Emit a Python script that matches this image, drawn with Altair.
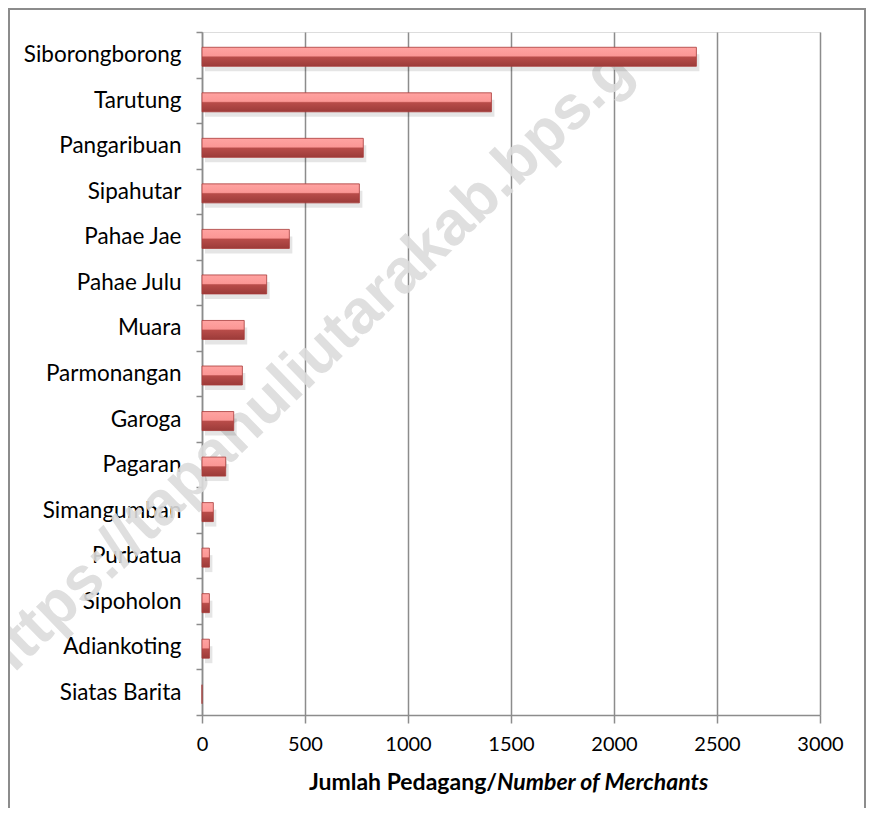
import altair as alt
import pandas as pd

kecamatan = ["Siborongborong", "Tarutung", "Pangaribuan", "Sipahutar", "Pahae Jae",
             "Pahae Julu", "Muara", "Parmonangan", "Garoga", "Pagaran",
             "Simangumban", "Purbatua", "Sipoholon", "Adiankoting", "Siatas Barita"]
pedagang = [2400, 1405, 783, 764, 424, 314, 205, 196, 154, 115, 55, 36, 36, 36, 0]
x_ticks = [0, 500, 1000, 1500, 2000, 2500, 3000]
title_main = "Jumlah Pedagang/"
title_italic = "Number of Merchants"
watermark = "https://tapanuliutarakab.bps.g"

df = pd.DataFrame({"kecamatan": kecamatan, "pedagang": pedagang})

FONT = "Lato"
W, H = 618, 683

x_enc = alt.X("pedagang:Q",
              scale=alt.Scale(domain=[0, 3000], nice=False),
              axis=alt.Axis(values=x_ticks, format="d", title=None, grid=True,
                            gridColor="#8c8c8c", gridWidth=1.5,
                            domainColor="#8c8c8c", domainWidth=1.5,
                            tickColor="#8c8c8c", tickWidth=1.5, tickSize=8,
                            labelFont=FONT, labelFontSize=20, labelColor="#000000",
                            labelPadding=11, labelFlush=False))
y_enc = alt.Y("kecamatan:N", sort=kecamatan,
              scale=alt.Scale(paddingInner=0, paddingOuter=0),
              axis=alt.Axis(title=None, tickBand="extent", grid=False,
                            domainColor="#8c8c8c", domainWidth=1.5,
                            tickColor="#8c8c8c", tickWidth=1.5, tickSize=6,
                            labelFont=FONT, labelFontSize=22.5, labelColor="#000000",
                            labelPadding=15))

wm = alt.Chart(pd.DataFrame({"t": [watermark]})).mark_text(
    font="Liberation Sans", fontWeight="bold", fontSize=62, angle=316,
    color="#dcdcdc", opacity=0.9, align="center", baseline="middle"
).encode(text="t:N", x=alt.value(102), y=alt.value(335))

shadow = alt.Chart(df).mark_bar(size=17, color="#000000", opacity=0.1,
                                yOffset=8, xOffset=3).encode(x=x_enc, y=y_enc)

grad = alt.Gradient(gradient="linear", x1=0, y1=0, x2=0, y2=1, stops=[
    alt.GradientStop(offset=0, color="#ffa3a1"),
    alt.GradientStop(offset=0.45, color="#fb9795"),
    alt.GradientStop(offset=0.52, color="#b84c49"),
    alt.GradientStop(offset=1, color="#9c3b39"),
])
bars = alt.Chart(df).mark_bar(size=19, yOffset=2, color=grad, stroke="#a83a38",
                              strokeWidth=0.8).encode(x=x_enc, y=y_enc)

t1 = alt.Chart(pd.DataFrame({"t": [title_main]})).mark_text(
    font=FONT, fontWeight="bold", fontSize=23, align="right", baseline="middle",
    color="#000000").encode(text="t:N", x=alt.value(295), y=alt.value(751))
t2 = alt.Chart(pd.DataFrame({"t": [title_italic]})).mark_text(
    font=FONT, fontWeight="bold", fontStyle="italic", fontSize=23, align="left",
    baseline="middle", color="#000000").encode(text="t:N", x=alt.value(295), y=alt.value(751))

border = alt.Chart(pd.DataFrame({"t": [0]})).mark_rect(
    filled=False, stroke="#8c8c8c", strokeWidth=2
).encode(x=alt.value(-193), x2=alt.value(663), y=alt.value(-23), y2=alt.value(900))

chart = alt.layer(wm, shadow, bars, t1, t2, border).properties(
    width=W, height=H,
    autosize=alt.AutoSizeParams(type="none"),
    padding={"left": 194, "top": 24, "right": 46, "bottom": 93},
).configure_view(stroke=None).configure(background="white")

chart.save("out.html", embed_options={"renderer": "svg", "actions": False})
